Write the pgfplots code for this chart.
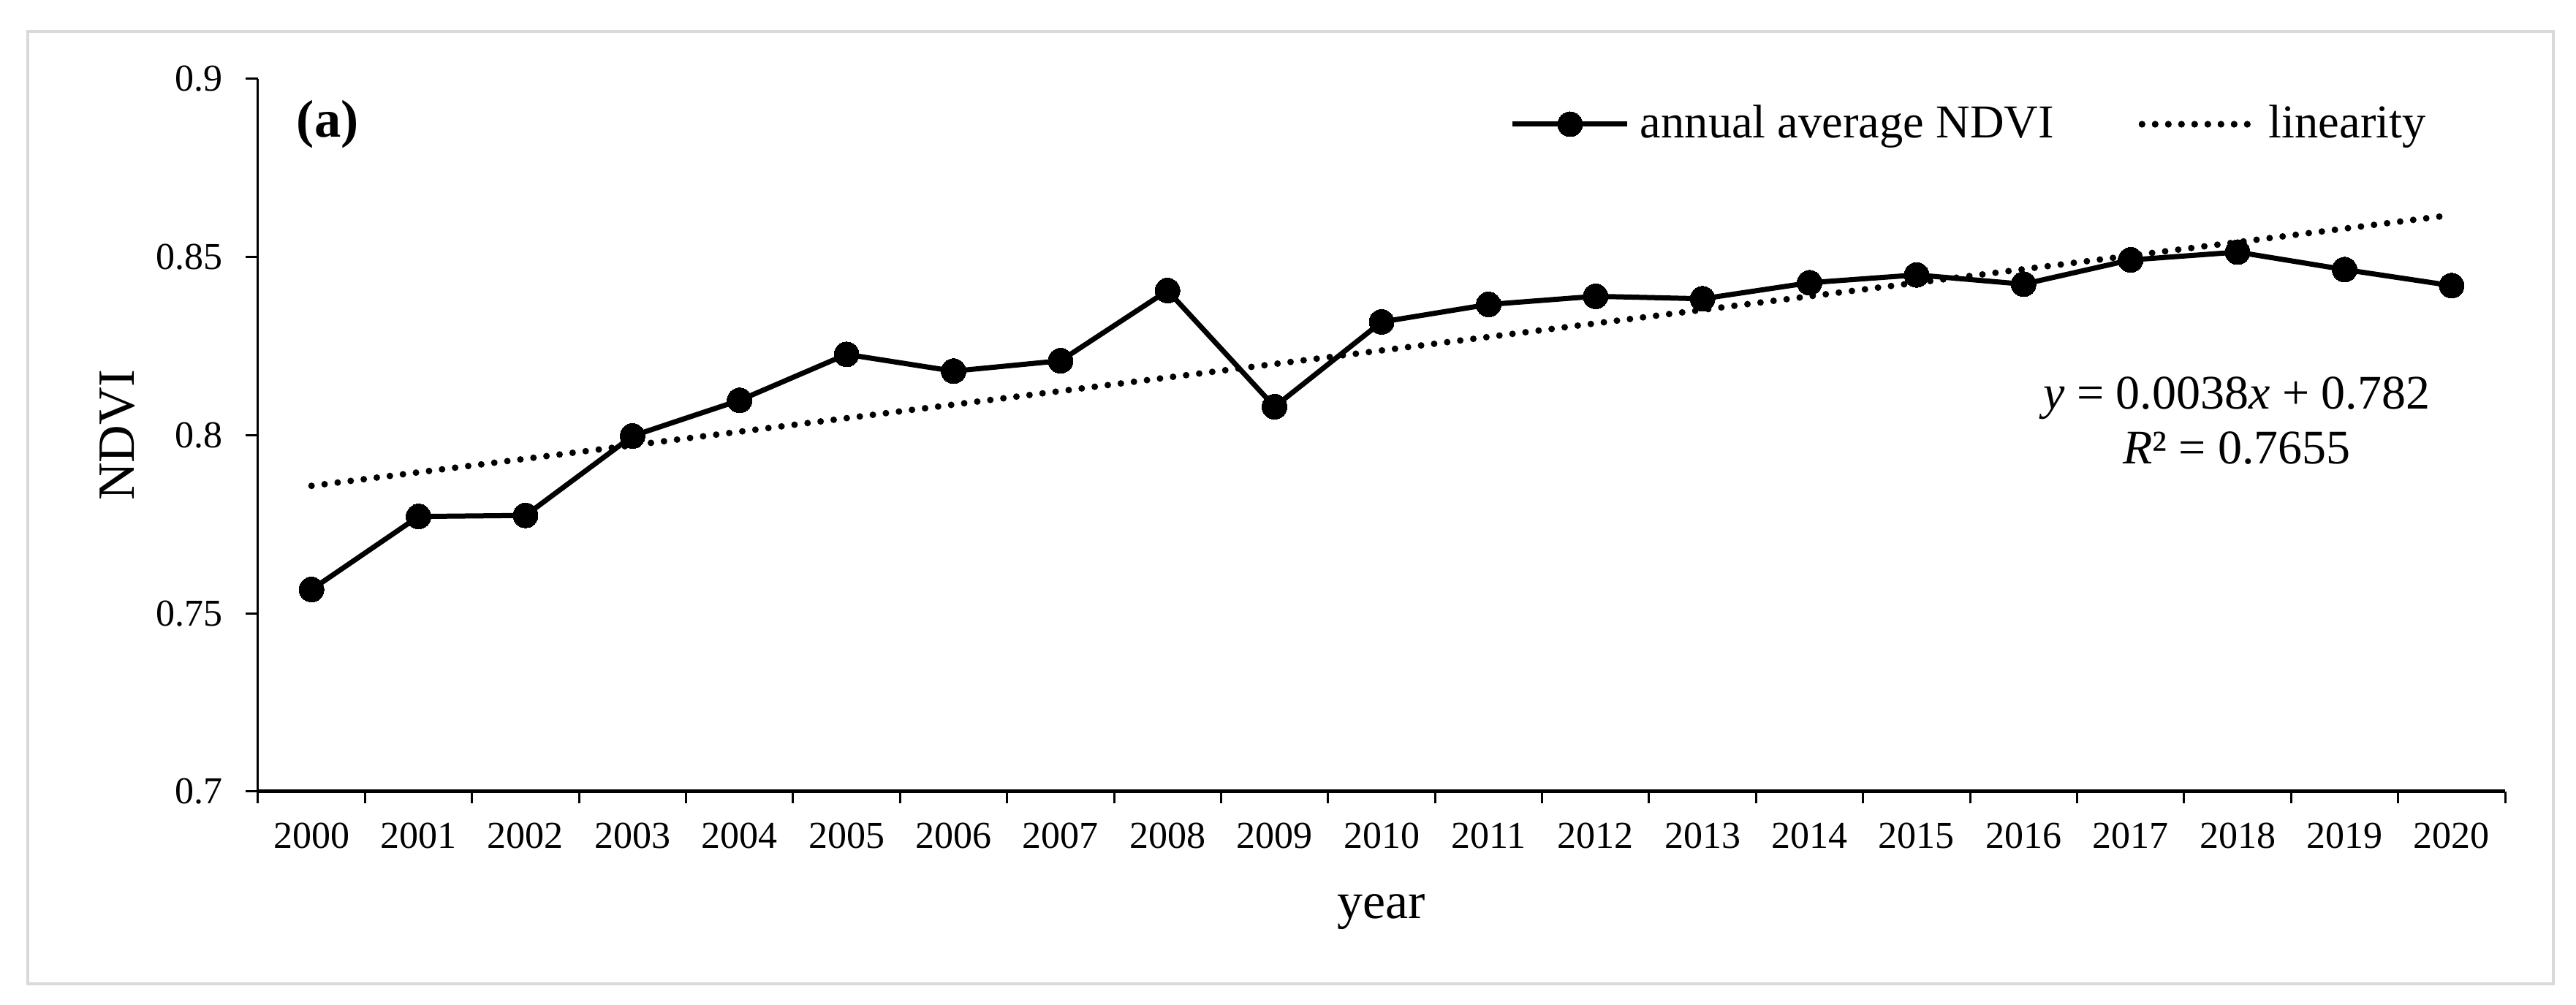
\documentclass[border=0pt]{standalone}
\usepackage{fontspec}
\setmainfont{Liberation Serif}
\usepackage{pgfplots}
\pgfplotsset{compat=1.18}
\pgfplotsset{
  legA/.style={legend image code/.code={\draw[mark repeat=2, mark phase=2, ##1] plot coordinates {(0pt,0pt) (15.7pt,0pt) (31.4pt,0pt)};}},
  legB/.style={legend image code/.code={\path (0pt,0pt) -- (31pt,0pt); \draw[##1] (0pt,0pt) -- (28.9pt,0pt);}},
}

\begin{document}
\begin{tikzpicture}
% page and outer frame (5 px per pt)
\path[use as bounding box] (-70.6pt,-58.4pt) rectangle (634.2pt,216.6pt);
\draw[color={rgb,255:red,217;green,217;blue,217}, line width=0.9pt] (-63pt,-52.6pt) rectangle (628pt,208pt);
\begin{axis}[
  at={(0,0)}, anchor=south west,
  scale only axis, width=614.8pt, height=195pt,
  xmin=-0.5, xmax=20.5, ymin=0.7, ymax=0.9,
  axis x line=bottom, axis y line=left,
  axis line style={-},
  x axis line style={line width=1pt},
  y axis line style={line width=0.6pt},
  xtick={0,...,20},
  xticklabels={2000,2001,2002,2003,2004,2005,2006,2007,2008,2009,2010,2011,2012,2013,2014,2015,2016,2017,2018,2019,2020},
  minor xtick={-0.5,0.5,...,20.5},
  major x tick style={draw=none},
  minor x tick style={line width=0.6pt, black},
  ytick={0.7,0.75,0.8,0.85,0.9},
  yticklabels={0.7,0.75,0.8,0.85,0.9},
  y tick style={line width=0.6pt, black},
  tick align=outside,
  major tick length=3.4pt, minor tick length=3.2pt,
  tick label style={font=\fontsize{10.4}{12}\selectfont, inner sep=0pt},
  xticklabel style={anchor=base, yshift=-12.1pt},
  yticklabel style={anchor=east, xshift=-6pt},
  xlabel={year}, ylabel={NDVI},
  xlabel style={font=\fontsize{14}{16}\selectfont, at={(axis description cs:0.5,0)}, anchor=base, yshift=-34.8pt, inner sep=0pt},
  ylabel style={font=\fontsize{14.3}{16}\selectfont, at={(axis description cs:-0.0625,0.5)}, anchor=center, inner sep=0pt},
  legend columns=2,
  legend style={draw=none, fill=none, inner sep=0pt, at={(0.5569,0.9364)}, anchor=west,
    font=\fontsize{12.9}{15}\selectfont, nodes={inner sep=0pt},
    /tikz/every odd column/.append style={column sep=2.8pt},
    /tikz/every even column/.append style={column sep=23.2pt}},
]
\addplot[black, line width=1.4pt, mark=*, mark size=3.4pt, mark options={line width=0pt, fill=black}, legA]
  coordinates {
  (0,0.7567) (1,0.7772) (2,0.7775) (3,0.7998) (4,0.8098) (5,0.8227) (6,0.8180)
  (7,0.8209) (8,0.8406) (9,0.8080) (10,0.8318) (11,0.8367) (12,0.8390) (13,0.8383)
  (14,0.8428) (15,0.8450) (16,0.8424) (17,0.8492) (18,0.8514) (19,0.8465) (20,0.8420)
};
\addlegendentry{annual average NDVI}
\addplot[black, line width=1.8pt, line cap=round, dash pattern=on 0pt off 3.6pt, legB]
  coordinates {(0,0.7858) (20,0.8618)};
\addlegendentry{linearity}
\node[anchor=west, inner sep=0pt, font=\bfseries\fontsize{14.5}{17}\selectfont] at (axis description cs:0.0169,0.9364) {(a)};
\node[anchor=base, inner sep=0pt, font=\fontsize{13.2}{15}\selectfont] at (axis description cs:0.8806,0.5364) {\textit{y} = 0.0038\textit{x} + 0.782};
\node[anchor=base, inner sep=0pt, font=\fontsize{13.2}{15}\selectfont] at (axis description cs:0.8806,0.4605) {\textit{R}² = 0.7655};
\end{axis}
\end{tikzpicture}
\end{document}
